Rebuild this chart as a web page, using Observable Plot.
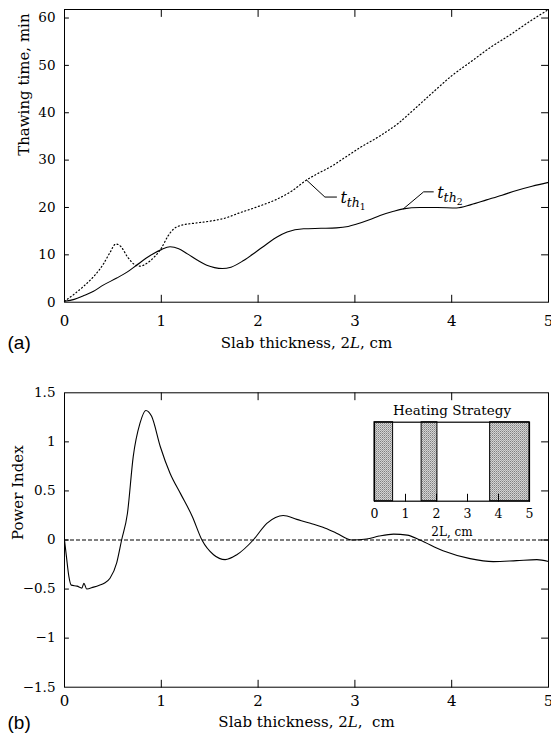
<!DOCTYPE html>
<html><head><meta charset="utf-8">
<script src="https://cdn.jsdelivr.net/npm/d3@7"></script>
<script src="https://cdn.jsdelivr.net/npm/@observablehq/plot@0.6"></script>
<style>
body{margin:0;background:#fff;}
#wrap{position:relative;width:551px;height:740px;background:#fff;overflow:hidden;}
#wrap svg{position:absolute;overflow:visible;}
</style></head><body>
<svg width="0" height="0" style="position:absolute"><defs>
<pattern id="hatch" width="2" height="2" patternUnits="userSpaceOnUse">
<rect width="2" height="2" fill="#d4d4d4"/><rect width="1" height="1" fill="#808080"/><rect x="1" y="1" width="1" height="1" fill="#a6a6a6"/>
</pattern></defs></svg>
<div id="wrap"></div>
<script>
// ---------- data ----------
const xTicks = [0, 1, 2, 3, 4, 5];
const topYTicks = [0, 10, 20, 30, 40, 50, 60];
const botYTicks = [-1.5, -1, -0.5, 0, 0.5, 1, 1.5];

// thawing time t_th1 (dotted)
const tth1X = [0,0.1,0.2,0.3,0.4,0.47,0.53,0.58,0.65,0.72,0.78,0.85,0.93,1.0,1.07,1.13,1.2,1.35,1.5,1.65,1.8,2.0,2.2,2.35,2.5,2.62,2.75,2.9,3.05,3.25,3.45,3.6,3.8,4.0,4.2,4.4,4.6,4.8,5.0];
const tth1Y = [0.2,1.7,3.4,5.4,8.0,10.5,12.3,11.8,9.6,8.0,7.6,8.2,9.6,11.4,14.0,15.5,16.2,16.7,17.1,17.7,18.8,20.2,21.8,23.5,25.8,27.2,28.6,30.6,32.6,35.0,37.8,40.5,44.2,47.8,50.8,53.8,56.4,59.2,61.8];

// thawing time t_th2 (solid)
const tth2X = [0,0.1,0.2,0.3,0.4,0.54,0.65,0.75,0.89,1.0,1.09,1.18,1.27,1.37,1.47,1.55,1.63,1.72,1.85,1.97,2.09,2.2,2.3,2.47,2.65,2.81,2.93,3.02,3.15,3.26,3.4,3.5,3.67,3.85,4.05,4.2,4.36,4.52,4.67,4.83,5.0];
const tth2Y = [0.2,0.6,1.4,2.3,3.6,5.1,6.4,7.9,9.9,11.1,11.7,11.3,10.2,8.9,7.8,7.3,7.1,7.4,8.8,10.5,12.3,13.8,14.8,15.5,15.6,15.7,16.0,16.5,17.4,18.3,19.2,19.7,20.0,20.0,19.9,20.6,21.6,22.6,23.6,24.5,25.3];

// power index
const piX = [0,0.02,0.045,0.07,0.13,0.18,0.2,0.23,0.3,0.36,0.41,0.47,0.54,0.59,0.65,0.71,0.78,0.84,0.9,0.99,1.09,1.2,1.32,1.42,1.54,1.66,1.78,1.95,2.09,2.18,2.26,2.4,2.54,2.67,2.81,2.97,3.12,3.25,3.4,3.54,3.67,3.91,4.19,4.43,4.67,4.88,5.0];
const piY = [0,-0.17,-0.37,-0.46,-0.47,-0.49,-0.44,-0.5,-0.48,-0.46,-0.44,-0.39,-0.23,0.0,0.27,0.85,1.19,1.32,1.26,0.95,0.68,0.47,0.24,0.0,-0.15,-0.2,-0.15,0.0,0.17,0.23,0.25,0.21,0.17,0.13,0.07,0.0,0.01,0.04,0.06,0.05,0.0,-0.11,-0.19,-0.22,-0.21,-0.2,-0.22];

// heating strategy (heated intervals of 2L, cm)
const heatStart = [0, 1.52, 3.73];
const heatEnd = [0.6, 2.03, 5];

// curve labels and their leader lines (data units)
const labelNames = ["t_th1", "t_th2"];
const labelX = [2.85, 3.85];
const labelY = [22.0, 23.0];
const leader1X = [2.5, 2.69, 2.81];
const leader1Y = [25.8, 22.2, 22.2];
const leader2X = [3.5, 3.71, 3.81];
const leader2Y = [19.7, 23.3, 23.3];

const xLabel = "Slab thickness, 2L, cm";
const xLabelB = "Slab thickness, 2L,  cm";
const yLabelTop = "Thawing time, min";
const yLabelBot = "Power Index";
const insetTitle = "Heating Strategy";
const insetXLabel = "2L, cm";

// ---------- build ----------
const zip = (xs, ys) => xs.map((x, i) => ({x, y: ys[i]}));
const tth1 = zip(tth1X, tth1Y);
const tth2 = zip(tth2X, tth2Y);
const power = zip(piX, piY);
const heat = heatStart.map((s, i) => ({s, e: heatEnd[i]}));
const labels = labelNames.map((n, i) => ({n, x: labelX[i], y: labelY[i]}));

const serif = "DejaVu Serif";
const fmt = d => d < 0 ? "\u2212" + Math.abs(d) : String(d);
const tickShape = {draw(ctx, l) { ctx.moveTo(0, 0); ctx.lineTo(0, -l); }};
function inward(xt, yt, len, leftLen) {
  const o = {anchor: "start", shape: tickShape, stroke: "black", strokeWidth: 1};
  const m = [];
  if (xt) {
    m.push(Plot.vector(xt, {...o, x: d => d, frameAnchor: "bottom", length: len, rotate: 0}));
    m.push(Plot.vector(xt, {...o, x: d => d, frameAnchor: "top", length: len, rotate: 180}));
  }
  if (yt) {
    m.push(Plot.vector(yt, {...o, y: d => d, frameAnchor: "left", length: leftLen, rotate: 90}));
    m.push(Plot.vector(yt, {...o, y: d => d, frameAnchor: "right", length: len, rotate: -90}));
  }
  return m;
}

const wrap = document.getElementById("wrap");

const topPlot = Plot.plot({
  width: 551, height: 355,
  marginLeft: 64, marginRight: 3, marginTop: 9, marginBottom: 53.3,
  style: {fontFamily: serif, background: "transparent", color: "black"},
  x: {domain: [0, 5]},
  y: {domain: [0, 61.8]},
  marks: [
    Plot.axisX(xTicks, {tickSize: 0, tickPadding: 13, fontSize: 15, tickFormat: fmt, label: null}),
    Plot.axisY(topYTicks, {tickSize: 0, tickPadding: 9, fontSize: 13.5, tickFormat: fmt, label: null}),
    ...inward(xTicks.slice(1, 5), topYTicks.slice(1), 7, 4),
    Plot.line(tth1, {x: "x", y: "y", curve: "monotone-x", stroke: "black", strokeWidth: 1.2, strokeDasharray: "1,2.6"}),
    Plot.line(tth2, {x: "x", y: "y", curve: "monotone-x", stroke: "black", strokeWidth: 1.1}),
    Plot.line(zip(leader1X, leader1Y), {x: "x", y: "y", stroke: "black", strokeWidth: 1}),
    Plot.line(zip(leader2X, leader2Y), {x: "x", y: "y", stroke: "black", strokeWidth: 1}),
    Plot.text(labels, {x: "x", y: "y", text: "n", textAnchor: "start", fontSize: 16, fill: "black"}),
    Plot.text([xLabel], {frameAnchor: "bottom", lineAnchor: "middle", dy: 41, fontSize: 15, fill: "black"}),
    Plot.text([yLabelTop], {frameAnchor: "left", lineAnchor: "middle", dx: -40, rotate: -90, fontSize: 15, fill: "black"}),
    Plot.text(["(a)"], {frameAnchor: "bottom-left", lineAnchor: "middle", dx: -57, dy: 41, textAnchor: "start", fontSize: 19, fontFamily: "Liberation Sans", fill: "black"}),
    Plot.frame({stroke: "black", strokeWidth: 1})
  ]
});
topPlot.style.left = "0px"; topPlot.style.top = "0px";
wrap.appendChild(topPlot);

const botPlot = Plot.plot({
  width: 551, height: 385,
  marginLeft: 64, marginRight: 3, marginTop: 37.3, marginBottom: 53.3,
  style: {fontFamily: serif, background: "transparent", color: "black"},
  x: {domain: [0, 5]},
  y: {domain: [-1.5, 1.5]},
  marks: [
    Plot.axisX(xTicks, {tickSize: 0, tickPadding: 8, fontSize: 15, tickFormat: fmt, label: null}),
    Plot.axisY(botYTicks, {tickSize: 0, tickPadding: 9, fontSize: 13.5, tickFormat: fmt, label: null}),
    ...inward(xTicks.slice(1, 5), botYTicks.slice(1, 6), 7, 4),
    Plot.ruleY([0], {stroke: "black", strokeWidth: 1, strokeDasharray: "4,2"}),
    Plot.line(power, {x: "x", y: "y", curve: "monotone-x", stroke: "black", strokeWidth: 1.1}),
    Plot.text([xLabelB], {frameAnchor: "bottom", lineAnchor: "middle", dy: 34.5, fontSize: 15, fill: "black"}),
    Plot.text([yLabelBot], {frameAnchor: "left", lineAnchor: "middle", dx: -46, rotate: -90, fontSize: 15, fill: "black"}),
    Plot.text(["(b)"], {frameAnchor: "bottom-left", lineAnchor: "middle", dx: -57, dy: 36, textAnchor: "start", fontSize: 19, fontFamily: "Liberation Sans", fill: "black"}),
    Plot.frame({stroke: "black", strokeWidth: 1})
  ]
});
botPlot.style.left = "0px"; botPlot.style.top = "355px";
wrap.appendChild(botPlot);

const insetPlot = Plot.plot({
  width: 200, height: 145,
  marginLeft: 24, marginRight: 21, marginTop: 26.7, marginBottom: 39.3,
  style: {fontFamily: serif, background: "transparent", color: "black"},
  x: {domain: [0, 5]},
  y: {domain: [0, 1], axis: null},
  marks: [
    Plot.rect(heat, {x1: "s", x2: "e", y1: 0, y2: 1, fill: "url(#hatch)", stroke: "black", strokeWidth: 1}),
    Plot.vector(xTicks, {x: d => d, frameAnchor: "bottom", length: 7, rotate: 0, anchor: "start", shape: tickShape, stroke: "black", strokeWidth: 1}),
    Plot.axisX(xTicks, {tickSize: 0, tickPadding: 8, fontSize: 12.5, tickFormat: fmt, label: null}),
    Plot.text([insetTitle], {frameAnchor: "top", lineAnchor: "middle", dy: -12, fontSize: 13.5, fill: "black"}),
    Plot.text([insetXLabel], {frameAnchor: "bottom", lineAnchor: "middle", dy: 31, fontSize: 12, fill: "black"}),
    Plot.frame({stroke: "black", strokeWidth: 1.2})
  ]
});
insetPlot.style.left = "350px"; insetPlot.style.top = "395px";
wrap.appendChild(insetPlot);

// ---------- text styling: italic L and subscripted curve labels ----------
function italicL(svg, str) {
  d3.select(svg).selectAll("text").filter(function() { return this.textContent === str; }).each(function() {
    const s = d3.select(this);
    const i = str.indexOf("2L");
    s.text(null).style("white-space", "pre");
    s.append("tspan").text(str.slice(0, i + 1));
    s.append("tspan").attr("font-style", "italic").text("L");
    s.append("tspan").text(str.slice(i + 2));
  });
}
italicL(topPlot, xLabel);
italicL(botPlot, xLabelB);

d3.select(topPlot).selectAll("text").filter(function() { return labelNames.includes(this.textContent); }).each(function() {
  const n = this.textContent.slice(-1);
  const s = d3.select(this);
  s.text(null);
  s.append("tspan").attr("font-style", "italic").text("t");
  s.append("tspan").attr("font-style", "italic").attr("font-size", "0.78em").attr("dy", "0.3em").text("th");
  s.append("tspan").attr("font-size", "0.58em").attr("dy", "0.3em").text(n);
});
</script>
</body></html>
